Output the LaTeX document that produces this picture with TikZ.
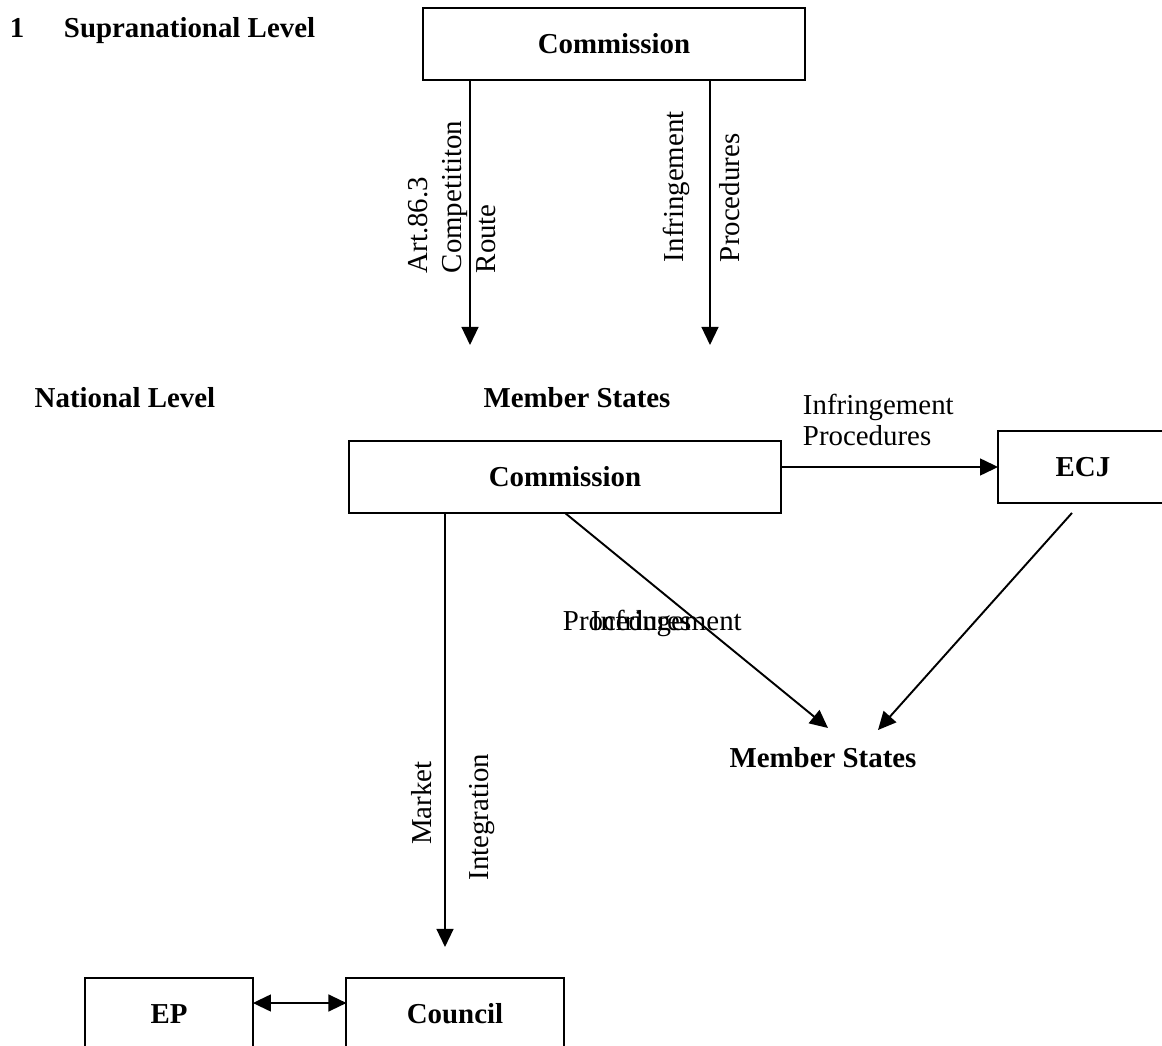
\documentclass[tikz,border=0pt]{standalone}
\usepackage{fontspec}
\setmainfont{Liberation Serif}
\usetikzlibrary{arrows.meta}

\begin{document}
\begin{tikzpicture}[x=0.0146cm, y=-0.0146cm, line width=0.8pt,
  box/.style={draw, inner sep=0pt, outer sep=0pt, minimum height=1.05cm, font=\fontsize{12}{14}\selectfont\bfseries},
  head/.style={inner sep=0pt, font=\fontsize{12}{14}\selectfont\bfseries},
  lbl/.style={inner sep=0pt, font=\fontsize{12}{14}\selectfont},
  arr/.style={-{Triangle[length=7.5pt,width=7pt]}},
  dbl/.style={{Triangle[length=7.5pt,width=7pt]}-{Triangle[length=7.5pt,width=7pt]}}]
\useasboundingbox (0,0) rectangle (1162,1046);

% Level titles
\node[head, anchor=base] (num) at (17,38) {1};
\node[head, anchor=base west] (supra) at (63,38) {Supranational Level};
\node[head, anchor=base] (natl) at (125,407) {National Level};

% Boxes
\node[box, minimum width=5.59cm] (commTop) at (614,44) {Commission};
\node[box, minimum width=6.32cm] (commMid) at (565,477) {Commission};
\node[box, minimum width=2.48cm] (ecj) at (1083,467) {ECJ};
\node[box, minimum width=2.45cm] (ep) at (169,1014) {EP};
\node[box, minimum width=3.17cm] (council) at (455,1014) {Council};

\node[head, anchor=base] (msTop) at (577,407) {Member States};
\node[head, anchor=base] (msLow) at (823,767) {Member States};

% Arrow ends
\coordinate (artEnd) at (470,345);
\coordinate (infEnd) at (710,345);
\coordinate (msTipA) at (828,728);
\coordinate (msTipB) at (878,730);
\coordinate (coTip) at (445,947);

% Supranational arrows
\draw[arr] (artEnd |- commTop.south) -- (artEnd);
\draw[arr] (infEnd |- commTop.south) -- (infEnd);
\node[lbl, rotate=90, align=left] (artLbl) at (452,197) {Art.86.3\\Competititon\\Route};
\node[lbl, rotate=90, anchor=west] (infLblA) at (676,263) {Infringement};
\node[lbl, rotate=90, anchor=west] (infLblB) at (730,263) {Procedures};

% National arrows
\draw[arr] (commMid.east |- ecj.west) -- (ecj.west);
\node[lbl, anchor=west, align=left] (ecjLbl) at (802,420) {Infringement\\[-1pt]Procedures};
\draw[arr] (commMid.south) -- (msTipA);
\node[lbl, anchor=base west] (procLbl) at (562,630) {Procedures};
\node[lbl, anchor=base west] (infLbl) at (590,630) {Infringement};
\draw[arr] ([shift={(-11,10)}]ecj.south) -- (msTipB);
\draw[arr] (coTip |- commMid.south) -- (coTip);
\node[lbl, rotate=90] (mktLbl) at (422,803) {Market};
\node[lbl, rotate=90] (intLbl) at (482,817) {Integration};
\draw[dbl] ([shift={(0,-11)}]ep.east) -- ([shift={(0,-11)}]council.west);
\end{tikzpicture}
\end{document}
